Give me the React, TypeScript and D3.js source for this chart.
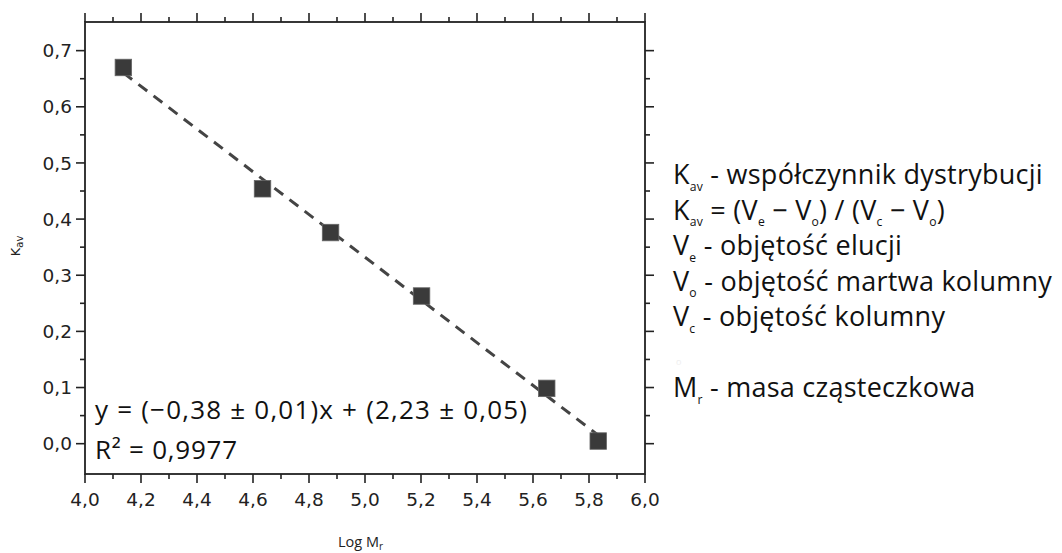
import React from "react";
import * as d3 from "d3";

const logMr = [4.137, 4.634, 4.877, 5.202, 5.649, 5.833];
const kav = [0.67, 0.454, 0.376, 0.263, 0.0985, 0.0047];
const xMajorTicks = [4.0, 4.2, 4.4, 4.6, 4.8, 5.0, 5.2, 5.4, 5.6, 5.8, 6.0];
const xMinorTicks = [4.1, 4.3, 4.5, 4.7, 4.9, 5.1, 5.3, 5.5, 5.7, 5.9];
const yMajorTicks = [0.0, 0.1, 0.2, 0.3, 0.4, 0.5, 0.6, 0.7];
const yMinorTicks = [0.05, 0.15, 0.25, 0.35, 0.45, 0.55, 0.65];
const equationText = "y = (\u22120,38 \u00b1 0,01)x + (2,23 \u00b1 0,05)";
const r2Text = "R\u00b2 = 0,9977";
const legendLines: [string, string, string][] = [
  ["K", "av", " - współczynnik dystrybucji"],
  ["K", "av", " = (V|e| \u2212 V|o|) / (V|c| \u2212 V|o|)"],
  ["V", "e", " - objętość elucji"],
  ["V", "o", " - objętość martwa kolumny"],
  ["V", "c", " - objętość kolumny"],
  ["", "", ""],
  ["M", "r", " - masa cząsteczkowa"],
];

const W = 1062;
const H = 553;
const L = 85, R = 645, T = 22, B = 474;
const ink = "#222";
const textFont = "'Open Sans', Lato, sans-serif";
const tickFont = "'DejaVu Sans', sans-serif";

function fmt(v: number) {
  return d3.format(".1f")(v).replace(".", ",");
}

function RichLine({ x, y, parts, size }: { x: number; y: number; parts: [string, string, string]; size: number }) {
  const [main, sub, rest] = parts;
  const subSize = size * 0.45;
  const drop = size * 0.25;
  const items: React.ReactNode[] = [];
  if (main) items.push(<tspan key="m">{main}</tspan>);
  if (sub) items.push(<tspan key="s" fontSize={subSize} dy={drop}>{sub}</tspan>);
  const segs = rest.split("|");
  segs.forEach((s, i) => {
    const isSub = i % 2 === 1;
    if (isSub) {
      items.push(<tspan key={"r" + i} fontSize={subSize} dy={drop}>{s}</tspan>);
    } else {
      items.push(
        <tspan key={"r" + i} fontSize={size} dy={i === 0 && sub ? -drop : i > 0 ? -drop : 0}>
          {s}
        </tspan>
      );
    }
  });
  return (
    <text x={x} y={y} fontFamily={textFont} fontSize={size} fill="#111" letterSpacing={0.25} style={{ whiteSpace: "pre" }}>
      {items}
    </text>
  );
}

export default function App() {
  const x = d3.scaleLinear().domain([4.0, 6.0]).range([L, R]);
  const y = d3.scaleLinear().domain([-0.054, 0.751]).range([B, T]);

  const mx = d3.mean(logMr)!;
  const my = d3.mean(kav)!;
  const sxy = d3.sum(logMr.map((v, i) => (v - mx) * (kav[i] - my)));
  const sxx = d3.sum(logMr.map((v) => (v - mx) * (v - mx)));
  const slope = sxy / sxx;
  const intercept = my - slope * mx;
  const xs = d3.extent(logMr) as [number, number];
  const fitLine = d3
    .line<number>()
    .x((d) => x(d))
    .y((d) => y(slope * d + intercept))(xs)!;

  const majorLen = 9;
  const minorLen = 5;
  const sq = 16.5;

  return (
    <svg width={W} height={H} style={{ position: "absolute", left: 0, top: 0, background: "#fff" }}>
      <rect x={0} y={0} width={W} height={H} fill="#fff" />
      <g stroke={ink} strokeWidth={1.6}>
        {xMajorTicks.map((t) => (
          <g key={"xM" + t}>
            <line x1={x(t)} x2={x(t)} y1={B} y2={B + majorLen} />
            <line x1={x(t)} x2={x(t)} y1={T} y2={T - majorLen} />
          </g>
        ))}
        {xMinorTicks.map((t) => (
          <g key={"xm" + t}>
            <line x1={x(t)} x2={x(t)} y1={B} y2={B + minorLen} />
            <line x1={x(t)} x2={x(t)} y1={T} y2={T - minorLen} />
          </g>
        ))}
        {yMajorTicks.map((t) => (
          <g key={"yM" + t}>
            <line y1={y(t)} y2={y(t)} x1={L} x2={L - majorLen} />
            <line y1={y(t)} y2={y(t)} x1={R} x2={R + majorLen} />
          </g>
        ))}
        {yMinorTicks.map((t) => (
          <g key={"ym" + t}>
            <line y1={y(t)} y2={y(t)} x1={L} x2={L - minorLen} />
            <line y1={y(t)} y2={y(t)} x1={R} x2={R + minorLen} />
          </g>
        ))}
      </g>
      <rect x={L} y={T} width={R - L} height={B - T} fill="none" stroke={ink} strokeWidth={1.8} />
      <g fontFamily={tickFont} fontSize={18.5} fill={ink}>
        {xMajorTicks.map((t) => (
          <text key={"xl" + t} x={x(t)} y={505.5} textAnchor="middle">
            {fmt(t)}
          </text>
        ))}
        {yMajorTicks.map((t) => (
          <text key={"yl" + t} x={72} y={y(t)} dy="0.36em" textAnchor="end">
            {fmt(t)}
          </text>
        ))}
      </g>
      <text transform="translate(20,246) rotate(-90)" fontFamily={tickFont} fontSize={13} fill={ink} textAnchor="middle">
        <tspan>K</tspan>
        <tspan fontSize={10} dy={3}>av</tspan>
      </text>
      <text x={338} y={547} fontFamily={textFont} fontSize={14.5} fill={ink}>
        <tspan>Log M</tspan>
        <tspan fontSize={10} dy={2.5}>r</tspan>
      </text>
      <path d={fitLine} fill="none" stroke="#444" strokeWidth={3} strokeDasharray="11,8" />
      {logMr.map((v, i) => (
        <rect
          key={"p" + i}
          x={x(v) - sq / 2}
          y={y(kav[i]) - sq / 2}
          width={sq}
          height={sq}
          fill="#3a3a3a"
          stroke="#666"
          strokeWidth={0.8}
        />
      ))}
      <text
        x={95}
        y={419}
        fontFamily={textFont}
        fontSize={26}
        fill="#111"
        textLength={432}
        lengthAdjust="spacing"
        style={{ whiteSpace: "pre" }}
      >
        {equationText}
      </text>
      <text x={95} y={459} fontFamily={textFont} fontSize={26} fill="#111" textLength={142} lengthAdjust="spacing">
        {r2Text}
      </text>
      {legendLines.map((ln, i) =>
        ln[0] ? <RichLine key={"lg" + i} x={673} y={184 + i * 35.5} parts={ln} size={27} /> : null
      )}
      <text x={676} y={365} fontFamily={textFont} fontSize={9} fill="#eee">o</text>
    </svg>
  );
}
